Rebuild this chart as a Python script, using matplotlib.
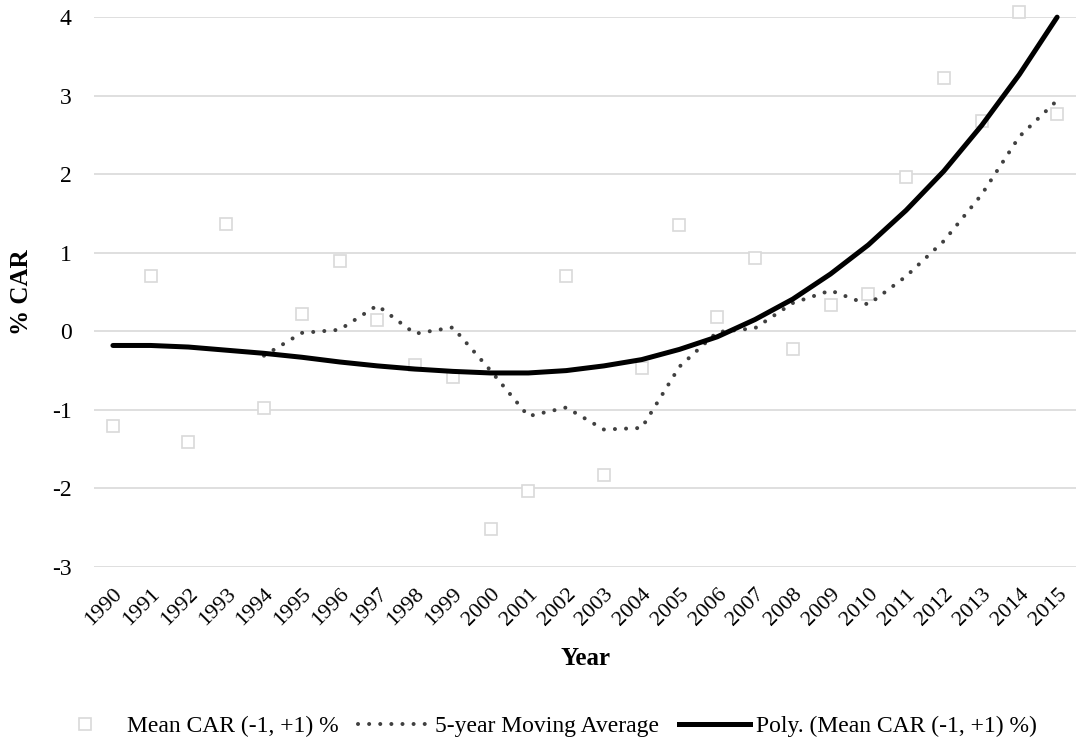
import matplotlib
matplotlib.use("Agg")
import matplotlib.pyplot as plt
from matplotlib.lines import Line2D

# ============================================================
# Data
# ============================================================

years = list(range(1990, 2016))

mean_car = [-1.21, 0.70, -1.41, 1.37, -0.98, 0.22, 0.89, 0.15, -0.43, -0.58,
            -2.52, -2.03, 0.71, -1.83, -0.47, 1.36, 0.18, 0.94, -0.23, 0.34,
            0.47, 1.97, 3.22, 2.68, 4.06, 2.77]

ma_years = list(range(1994, 2016))
moving_avg = [-0.31, -0.02, 0.02, 0.33, -0.03, 0.05, -0.50, -1.08, -0.97, -1.25,
              -1.23, -0.45, -0.01, 0.04, 0.36, 0.52, 0.34, 0.70, 1.15, 1.74,
              2.48, 2.94]

poly_trend = [-0.18, -0.18, -0.20, -0.24, -0.28, -0.33, -0.39, -0.44, -0.48, -0.51,
              -0.53, -0.53, -0.50, -0.44, -0.36, -0.23, -0.07, 0.15, 0.41, 0.73,
              1.10, 1.54, 2.04, 2.62, 3.27, 4.00]

y_ticks = [-3, -2, -1, 0, 1, 2, 3, 4]

legend_labels = ["Mean CAR (-1, +1) %", "5-year Moving Average",
                 "Poly. (Mean CAR (-1, +1) %)"]

# ============================================================
# Figure
# ============================================================

plt.rcParams["font.family"] = ["Liberation Serif", "DejaVu Serif"]

fig = plt.figure(figsize=(10.76, 7.46), dpi=100)
ax = fig.add_axes([0.0874, 0.240, 0.9126, 0.737])

grid_col = "#d9d9d9"
dot_style = (0, (0.01, 2.75))

ax.plot(years, mean_car, linestyle="none", marker="s", markersize=8.3,
        markerfacecolor="white", markeredgecolor=grid_col, markeredgewidth=1.2,
        zorder=3, clip_on=False)
ax.plot(ma_years, moving_avg, color="#404040", linewidth=2.9,
        linestyle=dot_style, dash_capstyle="round", zorder=4, clip_on=False)
ax.plot(years, poly_trend, color="black", linewidth=3.6,
        solid_capstyle="round", solid_joinstyle="round", zorder=5, clip_on=False)

ax.set_xlim(1989.5, 2015.5)
ax.set_ylim(-3, 4)
ax.set_yticks(y_ticks)
ax.set_yticklabels([str(v) for v in y_ticks])
ax.set_xticks(years)
ax.set_xticklabels([str(y) for y in years], rotation=45, ha="right",
                   rotation_mode="anchor")

ax.grid(axis="y", color=grid_col, linewidth=1.2)
ax.set_axisbelow(True)
for side in ("top", "right", "left", "bottom"):
    ax.spines[side].set_visible(False)
ax.tick_params(axis="both", length=0, colors="black")
ax.tick_params(axis="y", pad=16, labelsize=17)
ax.tick_params(axis="x", pad=13, labelsize=16)

ax.set_xlabel("Year", fontsize=18, fontweight="bold", va="center")
ax.xaxis.set_label_coords(0.5, -0.167)
ax.set_ylabel("% CAR", fontsize=18, fontweight="bold", va="center")
ax.yaxis.set_label_coords(-0.074, 0.5)

handles = [
    Line2D([0], [0], linestyle="none", marker="s", markersize=8.3,
           markerfacecolor="white", markeredgecolor=grid_col, markeredgewidth=1.2),
    Line2D([0], [0], color="#404040", linewidth=2.9,
           linestyle=dot_style, dash_capstyle="round"),
    Line2D([0], [0], color="black", linewidth=3.6),
]
fig.legend(handles=handles, labels=legend_labels,
           loc="center", bbox_to_anchor=(0.505, 0.026), ncol=3,
           frameon=False, fontsize=17, handlelength=3.0,
           handletextpad=0.25, columnspacing=0.85)

fig.savefig("out.png", dpi=100)
